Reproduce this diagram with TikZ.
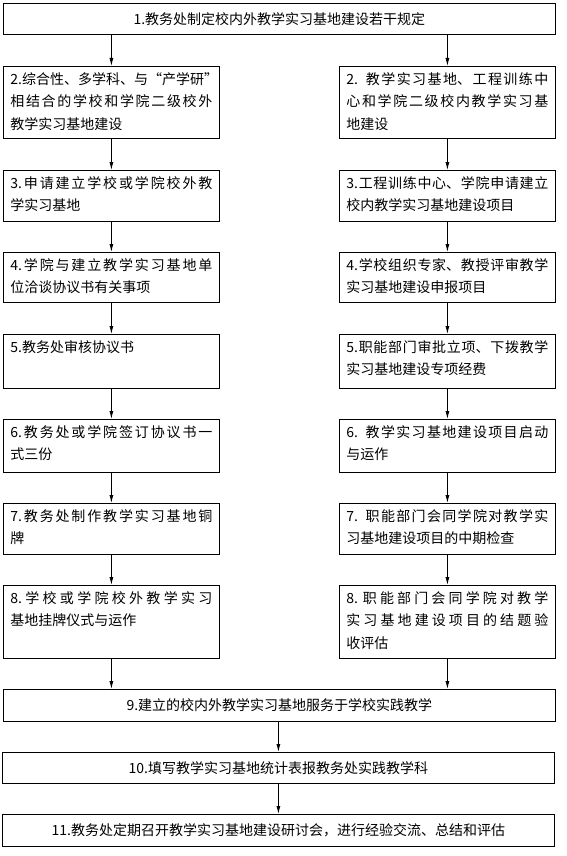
\documentclass[tikz,border=0pt]{standalone}
\usepackage{fontspec}
\newfontfamily\cjk{Noto Sans CJK SC}
\usetikzlibrary{arrows.meta}
\XeTeXlinebreaklocale "zh"
\XeTeXlinebreakskip=0pt plus 3pt
\newcommand\ptx[2]{\parbox[c][#1][t]{202pt}{\tolerance=10000 \emergencystretch=0pt #2}}
\begin{document}
\begin{tikzpicture}[x=1pt,y=-1pt,
  every node/.style={font=\cjk\fontsize{14}{22.5}\selectfont},
  sbox/.style={draw, line width=0.8pt, inner xsep=7pt, inner ysep=6pt, anchor=north west},
  cbox/.style={draw, line width=0.8pt, anchor=north west, inner sep=0pt, align=center},
  arr/.style={draw, line width=0.8pt, -{Latex[length=8pt,width=4pt]}}]
\useasboundingbox (0,0) rectangle (567,856);
% top
\node[cbox, minimum width=552pt, minimum height=31pt] (B1) at (3,3) {1.教务处制定校内外教学实习基地建设若干规定};
% left column
\node[sbox] (L2) at (3,66)  {\ptx{60pt}{\mbox{2.综合性、多学科、与“产学研”}\linebreak 相结合的学校和学院二级校外\linebreak 教学实习基地建设}};
\node[sbox] (L3) at (3,170) {\ptx{39pt}{3.申请建立学校或学院校外教\linebreak 学实习基地}};
\node[sbox] (L4) at (3,252) {\ptx{38pt}{4.学院与建立教学实习基地单\linebreak 位洽谈协议书有关事项}};
\node[sbox] (L5) at (3,334) {\ptx{42pt}{5.教务处审核协议书}};
\node[sbox] (L6) at (3,419) {\ptx{41pt}{6.教务处或学院签订协议书一\linebreak 式三份}};
\node[sbox] (L7) at (3,503) {\ptx{39pt}{7.教务处制作教学实习基地铜\linebreak 牌}};
\node[sbox] (L8) at (3,585) {\ptx{61pt}{8.学校或学院校外教学实习\linebreak 基地挂牌仪式与运作}};
% right column
\node[sbox] (R2) at (339,66)  {\ptx{60pt}{2.\ \ 教学实习基地、工程训练中\linebreak 心和学院二级校内教学实习基\linebreak 地建设}};
\node[sbox] (R3) at (339,170) {\ptx{39pt}{3.工程训练中心、学院申请建立\linebreak 校内教学实习基地建设项目}};
\node[sbox] (R4) at (339,252) {\ptx{38pt}{4.学校组织专家、教授评审教学\linebreak 实习基地建设申报项目}};
\node[sbox] (R5) at (339,334) {\ptx{42pt}{5.职能部门审批立项、下拨教学\linebreak 实习基地建设专项经费}};
\node[sbox] (R6) at (339,419) {\ptx{41pt}{6.\ \ 教学实习基地建设项目启动\linebreak 与运作}};
\node[sbox] (R7) at (339,503) {\ptx{39pt}{7.\ \ 职能部门会同学院对教学实\linebreak 习基地建设项目的中期检查}};
\node[sbox] (R8) at (339,585) {\ptx{61pt}{8.\ 职能部门会同学院对教学\linebreak 实习基地建设项目的结题验\linebreak 收评估}};
% bottom
\node[cbox, minimum width=552pt, minimum height=32pt] (B9) at (3,689) {9.建立的校内外教学实习基地服务于学校实践教学};
\node[cbox, minimum width=552pt, minimum height=31pt] (B10) at (2,752) {10.填写教学实习基地统计表报教务处实践教学科};
\node[cbox, minimum width=552pt, minimum height=32pt] (B11) at (2,814) {11.教务处定期召开教学实习基地建设研讨会，进行经验交流、总结和评估};
% arrows
\draw[arr] (B1.south -| L2.north) -- (L2.north);
\draw[arr] (B1.south -| R2.north) -- (R2.north);
\foreach \a/\b in {L2/L3,L3/L4,L4/L5,L5/L6,L6/L7,L7/L8,R2/R3,R3/R4,R4/R5,R5/R6,R6/R7,R7/R8}
  \draw[arr] (\a.south) -- (\b.north);
\draw[arr] (L8.south) -- (L8.south |- B9.north);
\draw[arr] (R8.south) -- (R8.south |- B9.north);
\draw[arr] (B9.south -| B10.north) -- (B10.north);
\draw[arr] (B10.south) -- (B11.north);
\end{tikzpicture}
\end{document}
